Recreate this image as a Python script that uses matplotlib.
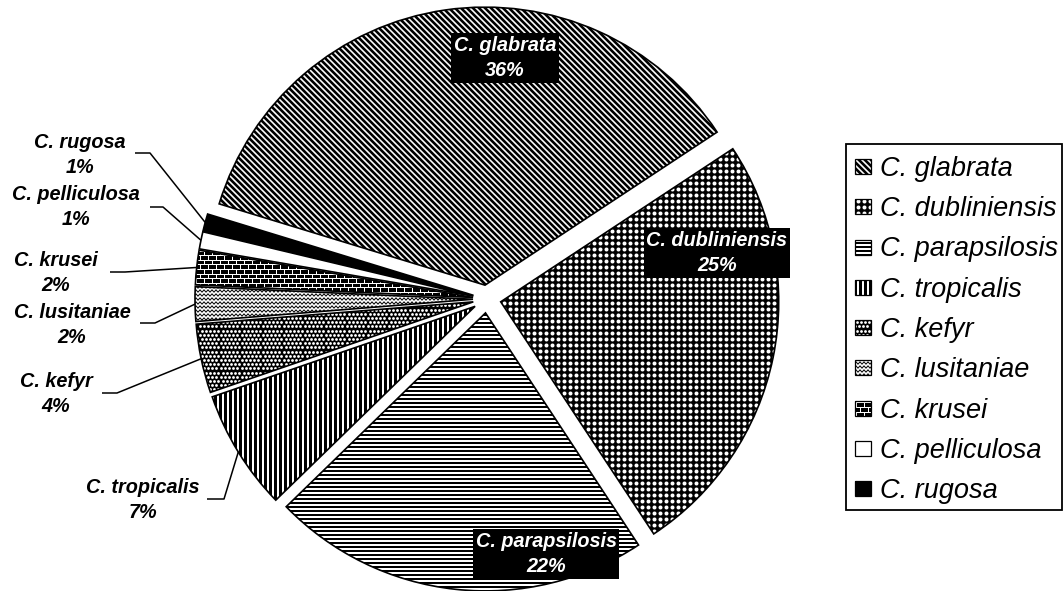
import numpy as np
import matplotlib.pyplot as plt
from matplotlib.patches import Wedge, Rectangle
from matplotlib.collections import LineCollection

plt.rcParams['font.family'] = ['Liberation Sans', 'DejaVu Sans']

species = ['C. glabrata', 'C. dubliniensis', 'C. parapsilosis', 'C. tropicalis',
           'C. kefyr', 'C. lusitaniae', 'C. krusei', 'C. pelliculosa', 'C. rugosa']
percent = [36, 25, 22, 7, 4, 2, 2, 1, 1]

# fill pattern of every slice (see decorate below)
patterns = ['diag', 'dots', 'hlines', 'vlines', 'smalldots', 'zigzag', 'bricks',
            'white', 'black']

W, H = 1064, 591
PT = 0.72  # points per pixel at 100 dpi

fig = plt.figure(figsize=(W / 100, H / 100), dpi=100)
ax = fig.add_axes([0, 0, 1, 1])


def bounds(patch):
    ext = patch.get_path().transformed(patch.get_patch_transform()).get_extents()
    return ext.x0 - 8, ext.y0 - 8, ext.x1 + 8, ext.y1 + 8


def add_lines(patch, segs, width, color, crisp=True):
    lc = LineCollection(segs, colors=color, linewidths=width * PT, zorder=2,
                        capstyle='butt', antialiaseds=not crisp)
    ax.add_collection(lc, autolim=False)
    lc.set_clip_path(patch)


def stripes(patch, angle, step, width, color='black', crisp=True):
    x0, y0, x1, y1 = bounds(patch)
    a = np.deg2rad(angle)
    d = np.array([np.cos(a), np.sin(a)])
    n = np.array([-d[1], d[0]])
    corners = np.array([[x0, y0], [x0, y1], [x1, y0], [x1, y1]])
    proj = corners @ n
    c = corners.mean(axis=0)
    L = np.hypot(x1 - x0, y1 - y0)
    segs = []
    for k in np.arange(np.floor(proj.min() / step), np.ceil(proj.max() / step) + 1) * step:
        p = c + (k - c @ n) * n
        segs.append([p - L * d, p + L * d])
    add_lines(patch, segs, width, color, crisp)


def dots(patch, step, size, color='white', stagger=False):
    x0, y0, x1, y1 = bounds(patch)
    xs = np.arange(np.floor(x0 / step), np.ceil(x1 / step) + 1) * step
    ys = np.arange(np.floor(y0 / step), np.ceil(y1 / step) + 1) * step
    X, Y = np.meshgrid(xs, ys)
    if stagger:
        X = X + (np.round(Y / step) % 2) * step / 2
    sc = ax.scatter(X.ravel(), Y.ravel(), s=(size * PT) ** 2, c=color, marker='o',
                    linewidths=0, zorder=2)
    sc.set_clip_path(patch)


def zigzag(patch, step, period, amp, width, color='black'):
    x0, y0, x1, y1 = bounds(patch)
    xs = np.arange(np.floor(x0 / period) * period, x1 + period, period / 2)
    sign = (-1.0) ** np.arange(len(xs))
    segs = []
    for y in np.arange(np.floor(y0 / step), np.ceil(y1 / step) + 1) * step:
        segs.append(np.column_stack([xs, y + amp * sign]))
    add_lines(patch, segs, width, color, crisp=False)


def bricks(patch, row, brick, width, color='white'):
    x0, y0, x1, y1 = bounds(patch)
    segs = []
    rows = np.arange(np.floor(y0 / row), np.ceil(y1 / row) + 1)
    for k in rows:
        y = k * row
        segs.append([(x0, y), (x1, y)])
        shift = (k % 2) * brick / 2
        for x in np.arange(np.floor(x0 / brick) - 1, np.ceil(x1 / brick) + 1) * brick + shift:
            segs.append([(x, y), (x, y + row)])
    add_lines(patch, segs, width, color)


def decorate(patch, kind):
    dark = kind in ('dots', 'smalldots', 'bricks', 'black')
    patch.set_facecolor('black' if dark else 'white')
    if kind == 'diag':
        # 6 px apart along a row of pixels
        stripes(patch, -45, 6 / np.sqrt(2), 2.6, crisp=False)
    elif kind == 'dots':
        dots(patch, 6, 4.0)
    elif kind == 'hlines':
        stripes(patch, 0, 4.0, 1.6)
    elif kind == 'vlines':
        stripes(patch, 90, 5.0, 2.8)
    elif kind == 'smalldots':
        dots(patch, 4.2, 2.8, stagger=True)
    elif kind == 'zigzag':
        zigzag(patch, 4.0, 4.0, 1.2, 1.0)
    elif kind == 'bricks':
        bricks(patch, 4.6, 8, 1.0)


wedges, _ = ax.pie(percent, center=(487, H - 299), radius=278, explode=[14] * len(percent),
                   startangle=163, counterclock=False, wedgeprops=dict(linewidth=0))

for w, kind in zip(wedges, patterns):
    decorate(w, kind)
    ax.add_patch(Wedge(w.center, w.r, w.theta1, w.theta2, fill=False,
                       edgecolor='black', linewidth=1.2, zorder=3))

font = dict(family=['Liberation Sans', 'DejaVu Sans'], size=14.3,
            weight='bold', style='italic')

# labels in black boxes for the three big slices (x, y from top)
inner_pos = {0: (505, 58), 1: (717, 253), 2: (546, 554)}
for i, (x, y) in inner_pos.items():
    ax.text(x, H - y, f'{species[i]}\n{percent[i]}%', ha='center', va='center',
            color='white', linespacing=1.42, zorder=5,
            bbox=dict(boxstyle='square,pad=0.12', facecolor='black', edgecolor='none'),
            **font)

# outside labels with leader lines: text centre, elbow start, elbow end
outer = {
    8: ((80, 155), (135, 153), (150, 153)),
    7: ((76, 207), (150, 207), (163, 207)),
    6: ((56, 273), (110, 272), (125, 272)),
    5: ((72, 325), (140, 323), (155, 323)),
    4: ((56, 394), (102, 393), (117, 393)),
    3: ((143, 500), (207, 499), (224, 499)),
}
for i, (tpos, p0, p1) in outer.items():
    w = wedges[i]
    mid = np.deg2rad((w.theta1 + w.theta2) / 2)
    ex = w.center[0] + w.r * np.cos(mid)
    ey = w.center[1] + w.r * np.sin(mid)
    ax.plot([p0[0], p1[0], ex], [H - p0[1], H - p1[1], ey], color='black',
            linewidth=1.1, zorder=4, solid_capstyle='butt')
    ax.text(tpos[0], H - tpos[1], f'{species[i]}\n{percent[i]}%', ha='center',
            va='center', color='black', linespacing=1.42, **font)

# legend box on the right
ax.add_patch(Rectangle((846, H - 510), 216, 366, fill=False, edgecolor='black',
                       linewidth=1.3, zorder=3))
for i, (name, kind) in enumerate(zip(species, patterns)):
    base = 176 + 40.25 * i
    sq = Rectangle((855, H - base + 2), 16, 15, linewidth=0, zorder=1)
    ax.add_patch(sq)
    decorate(sq, kind)
    ax.add_patch(Rectangle((855, H - base + 2), 16, 15, fill=False, edgecolor='black',
                           linewidth=0.9, zorder=3))
    ax.text(880, H - base, name, ha='left', va='baseline', size=19.5, style='italic',
            family=['Liberation Sans', 'DejaVu Sans'])

ax.set_xlim(0, W)
ax.set_ylim(0, H)
ax.set_aspect('auto')
ax.axis('off')

fig.savefig('out.png', dpi=100)
